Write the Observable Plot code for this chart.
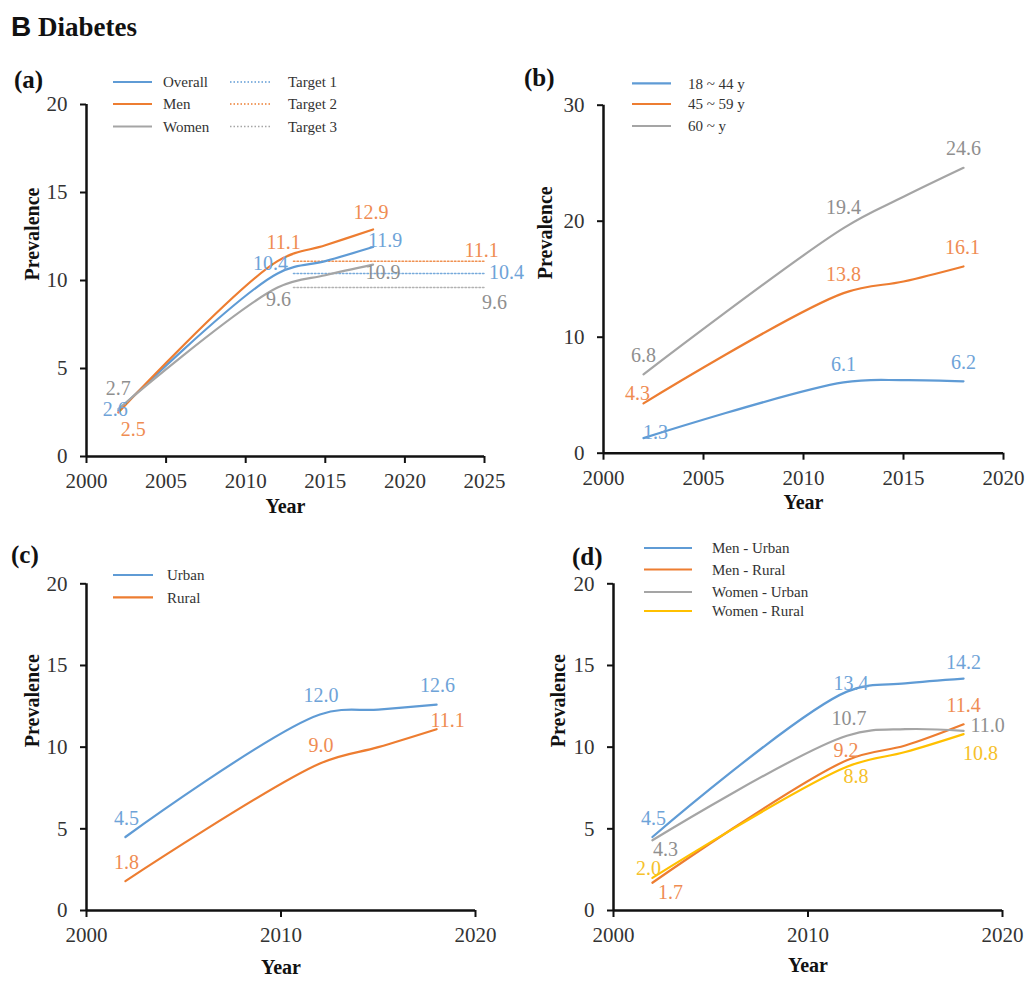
<!DOCTYPE html>
<html>
<head>
<meta charset="utf-8">
<script src="https://cdn.jsdelivr.net/npm/d3@7"></script>
<script src="https://cdn.jsdelivr.net/npm/@observablehq/plot@0.6"></script>
<style>
  body { margin: 0; background: #fff; }
  #root { position: relative; width: 1030px; height: 985px; overflow: hidden; background: #fff;
          font-family: "Liberation Serif", "Times New Roman", serif; }
  #root > svg.plot-panel { position: absolute; overflow: visible; background: transparent;
          font-family: "Liberation Serif", "Times New Roman", serif; font-size: 20px; }
  #root > svg.plot-panel text { font-family: "Liberation Serif", "Times New Roman", serif; }
  #overlay { position: absolute; left: 0; top: 0; pointer-events: none; }
</style>
</head>
<body>
<div id="root"></div>
<script>
// ---------------- DATA ----------------
// survey years (2015 is an unlabelled point)
const surveyYears = [2002, 2012, 2015, 2018];
const labelYears = [2002, 2012, 2018];

// (a) overall / sex
const seriesA = ["Overall", "Men", "Women"];
const overallPrev = [2.6, 10.4, 11.1, 11.9];
const menPrev = [2.5, 11.1, 12.0, 12.9];
const womenPrev = [2.7, 9.6, 10.3, 10.9];
const targetNames = ["Target 1", "Target 2", "Target 3"];
const targetValues = [10.4, 11.1, 9.6];
const targetYears = [2013, 2025];

// (b) age groups
const seriesB = ["18 ~ 44 y", "45 ~ 59 y", "60 ~ y"];
const age18to44 = [1.3, 6.1, 6.3, 6.2];
const age45to59 = [4.3, 13.8, 14.8, 16.1];
const age60plus = [6.8, 19.4, 22.1, 24.6];

// (c) urban / rural
const seriesC = ["Urban", "Rural"];
const urbanPrev = [4.5, 12.0, 12.3, 12.6];
const ruralPrev = [1.8, 9.0, 10.0, 11.1];

// (d) sex x area
const seriesD = ["Men - Urban", "Men - Rural", "Women - Urban", "Women - Rural"];
const menUrban = [4.5, 13.4, 13.9, 14.2];
const menRural = [1.7, 9.2, 10.1, 11.4];
const womenUrban = [4.3, 10.7, 11.1, 11.0];
const womenRural = [2.0, 8.8, 9.7, 10.8];

// tick values
const xTicksA = [2000, 2005, 2010, 2015, 2020, 2025];
const xTicksB = [2000, 2005, 2010, 2015, 2020];
const xTicksCD = [2000, 2010, 2020];
const yTicks20 = [0, 5, 10, 15, 20];
const yTicks30 = [0, 10, 20, 30];

// ---------------- STYLE ----------------
const C = { blue: "#5f9bd5", orange: "#ed7d31", gray: "#a5a5a5", yellow: "#ffc000" };
const LC = { blue: "#6ea3d8", orange: "#ef8c52", gray: "#8f8f8f", yellow: "#f6c12a" };
const FONT = "Liberation Serif";

function tidy(names, valueLists, years) {
  const rows = [];
  names.forEach((name, i) => valueLists[i].forEach((v, j) => rows.push({ series: name, year: years[j], value: v })));
  return rows;
}

function drawPanel(cfg) {
  const { left, top, width, height, frame, xDomain, xTicks, yDomain, yTicks,
          names, values, colors, labelColors, offsets, yTitleDx, xTitleDy, extra = [] } = cfg;
  const rows = tidy(names, values, surveyYears);
  const lineMarks = names.map((n, i) =>
    Plot.line(rows.filter(r => r.series === n),
      { x: "year", y: "value", stroke: colors[i], strokeWidth: 2.2, curve: "catmull-rom" }));
  const labelMarks = [];
  names.forEach((n, i) => {
    rows.filter(r => r.series === n && labelYears.includes(r.year)).forEach((r, k) => {
      labelMarks.push(Plot.text([r], {
        x: "year", y: "value", text: d => d.value.toFixed(1),
        dx: offsets[n][k][0], dy: offsets[n][k][1],
        fill: labelColors[i], fontSize: 20, fontFamily: FONT
      }));
    });
  });
  const svg = Plot.plot({
    width, height,
    marginLeft: frame[0] - left, marginRight: left + width - frame[1],
    marginTop: frame[2] - top, marginBottom: top + height - frame[3],
    x: { domain: xDomain },
    y: { domain: yDomain },
    marks: [
      ...extra,
      ...lineMarks,
      Plot.ruleX([xDomain[0]], { stroke: "#111", strokeWidth: 2.5 }),
      Plot.ruleY([yDomain[0]], { stroke: "#111", strokeWidth: 2.5 }),
      Plot.axisX({ ticks: xTicks, tickSize: 7, tickPadding: 10, tickFormat: d => String(d),
                   stroke: "#111", strokeWidth: 2, fill: "#333", label: null, fontSize: 21, fontFamily: FONT }),
      Plot.axisY({ ticks: yTicks, tickSize: 6, tickPadding: 13, tickFormat: d => String(d),
                   stroke: "#111", strokeWidth: 2, fill: "#333", label: null, fontSize: 21, fontFamily: FONT }),
      Plot.text(["Prevalence"], { text: d => d, frameAnchor: "left", dx: -yTitleDx, rotate: -90,
                                  fontWeight: "bold", fontSize: 20, fill: "#111", fontFamily: FONT }),
      Plot.text(["Year"], { text: d => d, frameAnchor: "bottom", dy: xTitleDy,
                            fontWeight: "bold", fontSize: 20, fill: "#111", fontFamily: FONT }),
      ...labelMarks
    ]
  });
  svg.classList.add("plot-panel");
  svg.style.left = left + "px";
  svg.style.top = top + "px";
  svg.style.overflow = "visible";
  svg.style.background = "transparent";
  svg.style.fontFamily = FONT;
  svg.style.fontSize = "20px";
  document.getElementById("root").appendChild(svg);
}

// ---- target lines for panel (a)
const targetRows = [];
targetNames.forEach((n, i) => targetYears.forEach(y => targetRows.push({ series: n, year: y, value: targetValues[i] })));
const targetColors = [C.blue, C.orange, C.gray];
const targetLabelColors = [LC.blue, LC.orange, LC.gray];
const targetLabelOffsets = [[22, -1], [-3, -11], [10, 15]];
const targetMarks = [];
targetNames.forEach((n, i) => {
  targetMarks.push(Plot.line(targetRows.filter(r => r.series === n),
    { x: "year", y: "value", stroke: targetColors[i], strokeWidth: 1.5, strokeOpacity: 0.85, strokeDasharray: "1.5,2" }));
  targetMarks.push(Plot.text(targetRows.filter(r => r.series === n && r.year === targetYears[1]),
    { x: "year", y: "value", text: d => d.value.toFixed(1), dx: targetLabelOffsets[i][0], dy: targetLabelOffsets[i][1],
      fill: targetLabelColors[i], fontSize: 20, fontFamily: FONT }));
});

drawPanel({
  left: 0, top: 60, width: 515, height: 480, frame: [86, 484, 104, 456],
  xDomain: [2000, 2025], xTicks: xTicksA, yDomain: [0, 20], yTicks: yTicks20,
  names: seriesA, values: [overallPrev, menPrev, womenPrev],
  colors: [C.blue, C.orange, C.gray], labelColors: [LC.blue, LC.orange, LC.gray],
  offsets: {
    "Overall": [[-3, -1], [-7, -10], [12, -6]],
    "Men": [[15, 17], [6, -19], [-2, -17]],
    "Women": [[0, -20], [1, 12], [10, 8]]
  },
  yTitleDx: 54, xTitleDy: 56, extra: targetMarks
});

drawPanel({
  left: 515, top: 60, width: 515, height: 480, frame: [603, 1003, 104.7, 452.7],
  xDomain: [2000, 2020], xTicks: xTicksB, yDomain: [0, 30], yTicks: yTicks30,
  names: seriesB, values: [age18to44, age45to59, age60plus],
  colors: [C.blue, C.orange, C.gray], labelColors: [LC.blue, LC.orange, LC.gray],
  offsets: {
    "18 ~ 44 y": [[12, -6], [0, -18], [0, -19]],
    "45 ~ 59 y": [[-6, -10], [0, -19], [-1, -19]],
    "60 ~ y": [[0, -19], [0, -21], [0, -19]]
  },
  yTitleDx: 58, xTitleDy: 56
});

drawPanel({
  left: 0, top: 540, width: 515, height: 445, frame: [86, 475, 583.3, 910],
  xDomain: [2000, 2020], xTicks: xTicksCD, yDomain: [0, 20], yTicks: yTicks20,
  names: seriesC, values: [urbanPrev, ruralPrev],
  colors: [C.blue, C.orange], labelColors: [LC.blue, LC.orange],
  offsets: {
    "Urban": [[1, -18], [1, -19], [1, -19]],
    "Rural": [[1, -19], [1, -18], [11, -9]]
  },
  yTitleDx: 54, xTitleDy: 63
});

drawPanel({
  left: 515, top: 540, width: 515, height: 445, frame: [613, 1002, 583.3, 910],
  xDomain: [2000, 2020], xTicks: xTicksCD, yDomain: [0, 20], yTicks: yTicks20,
  names: seriesD, values: [menUrban, menRural, womenUrban, womenRural],
  colors: [C.blue, C.orange, C.gray, C.yellow], labelColors: [LC.blue, LC.orange, LC.gray, LC.yellow],
  offsets: {
    "Men - Urban": [[1, -18], [4, -8], [0, -16]],
    "Men - Rural": [[18, 10], [-1, -10], [0, -19]],
    "Women - Urban": [[13, 9], [2, -17], [24, -5]],
    "Women - Rural": [[-4, -9], [9, 10], [17, 20]]
  },
  yTitleDx: 55, xTitleDy: 61
});

// ---------------- overlay: title, panel letters, legends ----------------
const ov = d3.select("#root").append("svg").attr("id", "overlay").attr("width", 1030).attr("height", 985)
  .style("font-family", FONT);

const title = ov.append("text").attr("x", 11).attr("y", 36);
title.append("tspan").text("B").style("font-family", "Liberation Sans")
  .attr("font-weight", "bold").attr("font-size", 28).attr("fill", "#111");
title.append("tspan").text(" Diabetes").attr("font-weight", "bold").attr("font-size", 27).attr("fill", "#111");

const letters = [["(a)", 14, 88], ["(b)", 524, 86], ["(c)", 11, 563], ["(d)", 572, 565]];
letters.forEach(([t, x, y]) => ov.append("text").attr("x", x).attr("y", y).text(t)
  .attr("font-weight", "bold").attr("font-size", 25).attr("fill", "#111"));

function legend(names, colors, rowsY, x1, x2, tx, dashed) {
  names.forEach((n, i) => {
    ov.append("line").attr("x1", x1).attr("x2", x2).attr("y1", rowsY[i]).attr("y2", rowsY[i])
      .attr("stroke", colors[i]).attr("stroke-width", dashed ? 1.5 : 2.2)
      .attr("stroke-dasharray", dashed ? "1.5,2" : null);
    ov.append("text").attr("x", tx).attr("y", rowsY[i]).attr("dy", "0.35em").text(n)
      .attr("font-size", 15).attr("fill", "#333");
  });
}
legend(seriesA, [C.blue, C.orange, C.gray], [82, 104, 126.5], 113, 152, 163, false);
legend(targetNames, targetColors, [82, 104, 126.5], 230, 272, 288, true);
legend(seriesB, [C.blue, C.orange, C.gray], [83.3, 104, 126], 632, 671, 688, false);
legend(seriesC, [C.blue, C.orange], [575, 597.3], 113, 153, 167, false);
legend(seriesD, [C.blue, C.orange, C.gray, C.yellow], [548, 569.5, 592, 611], 644, 692, 712, false);
</script>
</body>
</html>
